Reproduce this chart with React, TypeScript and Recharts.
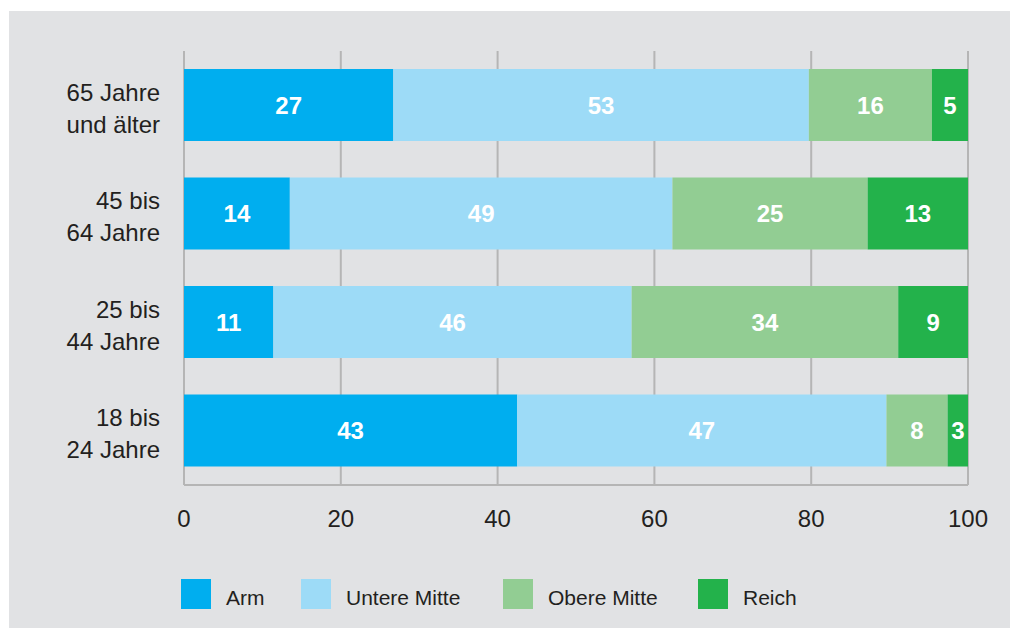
import { BarChart, Bar, XAxis, YAxis, CartesianGrid, LabelList } from 'recharts'

const ageGroups = ['65 Jahre|und älter', '45 bis|64 Jahre', '25 bis|44 Jahre', '18 bis|24 Jahre']
const arm = [26.7, 13.5, 11.4, 42.5]
const untereMitte = [53.0, 48.8, 45.7, 47.1]
const obereMitte = [15.7, 24.9, 34.0, 7.8]
const reich = [4.6, 12.8, 8.9, 2.6]
const xTicks = [0, 20, 40, 60, 80, 100]

const series = [
  { key: 'arm', name: 'Arm', color: '#00aeef' },
  { key: 'untere', name: 'Untere Mitte', color: '#9ddbf7' },
  { key: 'obere', name: 'Obere Mitte', color: '#92cd93' },
  { key: 'reich', name: 'Reich', color: '#23b24b' },
]

const data = ageGroups.map((group, i) => ({
  group,
  arm: arm[i],
  untere: untereMitte[i],
  obere: obereMitte[i],
  reich: reich[i],
}))

const font = '"Liberation Sans", Arial, sans-serif'
const textColor = '#231f20'
const gridColor = '#b5b5b5'

function GroupTick({ x, y, payload }: any) {
  const lines = String(payload.value).split('|')
  return (
    <text x={x - 24} y={y} textAnchor="end" fontFamily={font} fontSize={24} fill={textColor}>
      <tspan x={x - 24} dy={-13} dominantBaseline="central">{lines[0]}</tspan>
      <tspan x={x - 24} dy={32} dominantBaseline="central">{lines[1]}</tspan>
    </text>
  )
}

function ValueTick({ x, y, payload }: any) {
  return (
    <text x={x} y={y + 33} textAnchor="middle" dominantBaseline="central" fontFamily={font} fontSize={24} fill={textColor}>
      {payload.value}
    </text>
  )
}

const legendLeft = [172, 292, 494, 689]

export default function App() {
  return (
    <div style={{ position: 'absolute', left: 9, top: 11, width: 1001, height: 617, background: '#e1e2e4' }}>
      <BarChart
        width={1001}
        height={617}
        data={data}
        layout="vertical"
        barSize={72}
        margin={{ top: 40, right: 42, bottom: 103, left: 0 }}
      >
        <CartesianGrid horizontal={false} stroke={gridColor} strokeWidth={2} />
        <XAxis
          type="number"
          domain={[0, 100]}
          ticks={xTicks}
          height={40}
          tickSize={0}
          tickMargin={0}
          tick={<ValueTick />}
          axisLine={{ stroke: gridColor, strokeWidth: 2 }}
        />
        <XAxis
          xAxisId="top"
          type="number"
          orientation="top"
          domain={[0, 100]}
          height={0}
          tick={false}
          tickLine={false}
          axisLine={{ stroke: gridColor, strokeWidth: 2 }}
        />
        <YAxis
          type="category"
          dataKey="group"
          width={175}
          tickSize={0}
          tickMargin={0}
          axisLine={false}
          tick={<GroupTick />}
        />
        {series.map((s) => (
          <Bar key={s.key} dataKey={s.key} name={s.name} stackId="a" fill={s.color} isAnimationActive={false}>
            <LabelList
              dataKey={s.key}
              position="center"
              formatter={(v: any) => Math.round(Number(v))}
              fill="#ffffff"
              fontFamily={font}
              fontSize={24}
              fontWeight="bold"
            />
          </Bar>
        ))}
      </BarChart>
      {series.map((s, i) => (
        <div key={s.key} style={{ position: 'absolute', left: legendLeft[i], top: 568, height: 30, display: 'flex', alignItems: 'center' }}>
          <div style={{ width: 30, height: 30, background: s.color }} />
          <span style={{ position: 'relative', top: 4, marginLeft: 15, fontFamily: font, fontSize: 21, color: textColor, lineHeight: '30px' }}>{s.name}</span>
        </div>
      ))}
    </div>
  )
}
